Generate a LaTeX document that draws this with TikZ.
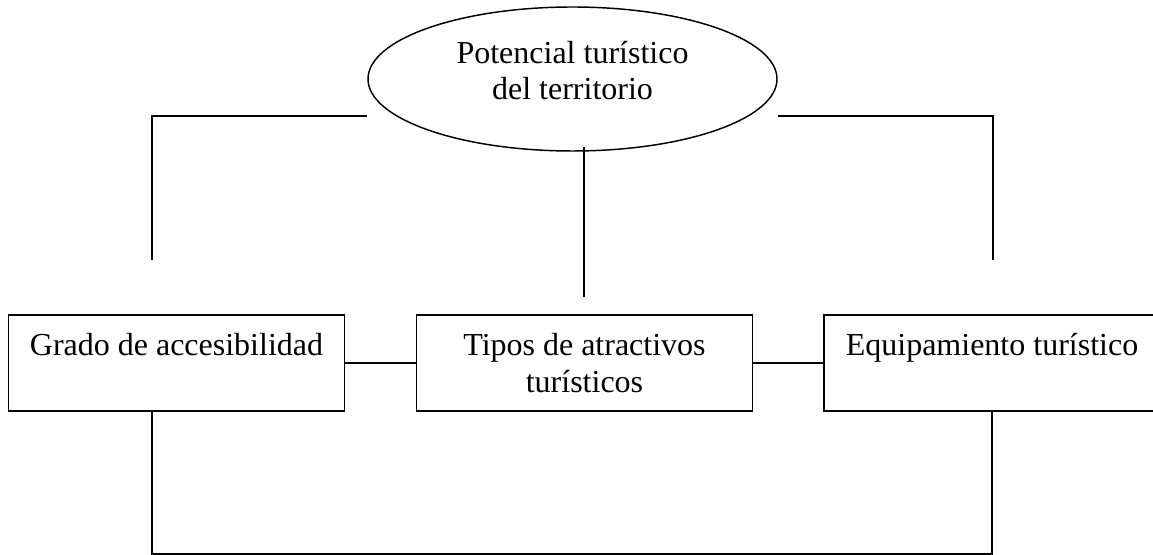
\documentclass[tikz,border=0pt]{standalone}
\usepackage{fontspec}
\setmainfont{Liberation Serif}
\usetikzlibrary{shapes.geometric}
\tikzset{
  txt/.style={font=\fontsize{24}{27.6}\selectfont, align=center},
  caja/.style={draw, line width=1.1pt, txt, inner sep=0pt, minimum width=252pt, minimum height=72pt},
  linea/.style={line width=1.1pt}
}
\begin{document}
\begin{tikzpicture}[x=0.75pt, y=-0.75pt]
            \useasboundingbox (0,0) rectangle (1153,555);
            % Potencial del territorio
            \node[draw, ellipse, line width=1.1pt, txt, inner sep=0pt, minimum width=306.75pt, minimum height=108pt]
              (pot) at (572.5,79) {Potencial turístico\\del territorio\rule[-13pt]{0pt}{0pt}};
            \node[caja] (grado) at (176.5,363) {Grado de accesibilidad\\\mbox{}};
            \node[caja] (tipos) at (584.5,363) {Tipos de atractivos\\turísticos};
            \node[caja] (equip) at (992,363) {Equipamiento turístico\\\mbox{}};
            \coordinate (ltop) at (152,116);
            \coordinate (lfoot) at (152,260);
            \coordinate (rtop) at (993,116);
            \coordinate (rfoot) at (993,260);
            \coordinate (ctop) at (584,147);
            \coordinate (cfoot) at (584,297);
            \coordinate (lbot) at (152,554);
            \coordinate (rbot) at (992,554);
            % lineas
            \draw[linea] (lfoot) -- (ltop) -- (ltop -| pot.west);
            \draw[linea] (rtop -| pot.east) -- (rtop) -- (rfoot);
            \draw[linea] (ctop) -- (cfoot);
            \draw[linea] (grado.east) -- (tipos.west);
            \draw[linea] (tipos.east) -- (equip.west);
            \draw[linea] (lbot |- grado.south) -- (lbot) -- (rbot) -- (rbot |- equip.south);
        \end{tikzpicture}
\end{document}
